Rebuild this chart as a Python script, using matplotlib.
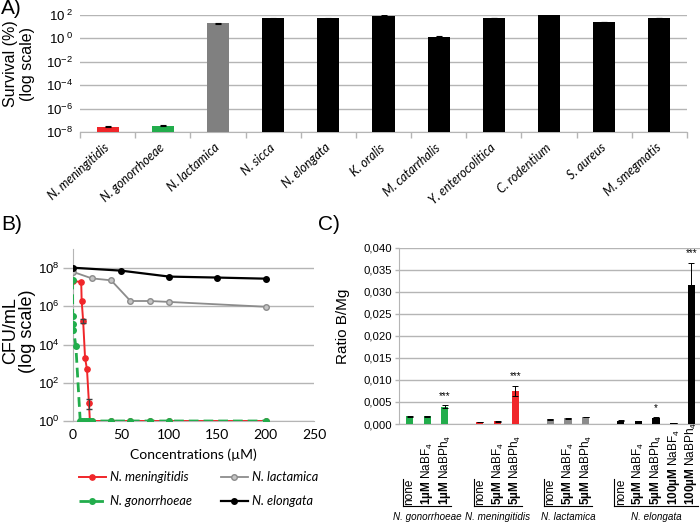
import matplotlib
matplotlib.use('Agg')
import matplotlib.pyplot as plt
from matplotlib.transforms import blended_transform_factory
from matplotlib.lines import Line2D
from matplotlib.ticker import FixedLocator, FuncFormatter, NullLocator

plt.rcParams['font.family'] = 'Liberation Sans'
plt.rcParams['mathtext.fontset'] = 'custom'
plt.rcParams['mathtext.rm'] = 'Liberation Sans'
plt.rcParams['mathtext.it'] = 'Liberation Sans:italic'
plt.rcParams['mathtext.bf'] = 'Liberation Sans:bold'

RED = '#f0262a'
GREEN = '#22ad4c'
GRAY = '#808080'
LGRAY = '#8c8c8c'
BLACK = '#000000'
GRID = '#b5b5b5'

# ---------------- Panel A data ----------------
a_species = ['N. meningitidis', 'N. gonorrhoeae', 'N. lactamica', 'N. sicca', 'N. elongata',
             'K. oralis', 'M. catarrhalis', 'Y. enterocolitica', 'C. rodentium', 'S. aureus',
             'M. smegmatis']
a_survival = [2.9e-8, 3.5e-8, 19, 54, 54, 87, 1.45, 54, 100, 25, 54]
a_rel_err = [0.12, 0.10, 0.10, 0.08, 0.08, 0.05, 0.08, 0.06, 0.0, 0.06, 0.05]
a_colors = [RED, GREEN, GRAY] + [BLACK] * 8
a_yticks = [1e-8, 1e-6, 1e-4, 1e-2, 1e0, 1e2]
a_ytick_labels = ['$10^{-8}$', '$10^{-6}$', '$10^{-4}$', '$10^{-2}$', '$10^{\\ 0}$', '$10^{\\ 2}$']

# ---------------- Panel B data ----------------
b_conc_men = [0, 9, 9.5, 11, 13, 15, 17, 18, 20, 40, 60, 80, 100, 200]
b_cfu_men = [2.1e7, 1.9e7, 1.9e6, 1.8e5, 2.0e3, 5.0e2, 9, 1, 1, 1, 1, 1, 1, 1]
b_conc_gon = [0, 0.25, 0.6, 1, 3.5, 8, 10, 12, 14, 16, 18, 20, 40, 60, 80, 100, 200]
b_cfu_gon = [2.5e7, 3.0e5, 1.2e5, 6.0e4, 8.0e3, 1, 1, 1, 1, 1, 1, 1, 1, 1, 1, 1, 1]
b_conc_lac = [0, 20, 40, 60, 80, 100, 200]
b_cfu_lac = [6.5e7, 2.9e7, 2.3e7, 1.9e6, 1.9e6, 1.7e6, 9.5e5]
b_conc_elo = [0, 50, 100, 150, 200]
b_cfu_elo = [1.05e8, 7.4e7, 3.6e7, 3.2e7, 2.8e7]
b_yticks = [1e0, 1e2, 1e4, 1e6, 1e8]
b_ytick_labels = ['$10^{0}$', '$10^{2}$', '$10^{4}$', '$10^{6}$', '$10^{8}$']
b_xticks = [0, 50, 100, 150, 200, 250]

# ---------------- Panel C data ----------------
c_groups = ['N. gonorrhoeae', 'N. meningitidis', 'N. lactamica', 'N. elongata']
c_group_colors = [GREEN, RED, LGRAY, BLACK]
c_doses = [['', '1µM', '1µM'],
           ['', '5µM', '5µM'],
           ['', '5µM', '5µM'],
           ['', '5µM', '5µM', '100µM', '100µM']]
c_compounds = [['none', 'NaBF', 'NaBPh'],
               ['none', 'NaBF', 'NaBPh'],
               ['none', 'NaBF', 'NaBPh'],
               ['none', 'NaBF', 'NaBPh', 'NaBF', 'NaBPh']]
c_values = [[0.0018, 0.0018, 0.0039],
            [0.00045, 0.0006, 0.0075],
            [0.0011, 0.0013, 0.0016],
            [0.00075, 0.0006, 0.0013, 0.0002, 0.0315]]
c_errors = [[0.0001, 0.0001, 0.0003],
            [0.0001, 0.0001, 0.0011],
            [0.0001, 0.0001, 0.0001],
            [0.0001, 0.0001, 0.0002, 0.00005, 0.0050]]
c_signif = [['', '', '***'], ['', '', '***'], ['', '', ''], ['', '', '*', '', '***']]
c_yticks = [0.0, 0.005, 0.010, 0.015, 0.020, 0.025, 0.030, 0.035, 0.040]

W, H = 700, 524
fig = plt.figure(figsize=(W / 100, H / 100), dpi=100)


def fx(px):
    return px / W


def fy(py):
    return 1 - py / H


# ================= Panel A =================
axA = fig.add_axes([fx(80), fy(132), 607 / W, 117 / H])
xa = list(range(len(a_species)))
bottom = 1e-8
axA.bar(xa, [v - bottom for v in a_survival], bottom=bottom, width=0.4,
        color=a_colors, zorder=3)
axA.errorbar(xa, a_survival, yerr=[[v * e for v, e in zip(a_survival, a_rel_err)],
                                   [v * e for v, e in zip(a_survival, a_rel_err)]],
             fmt='none', ecolor='black', elinewidth=0.8, capsize=2.2, capthick=0.8, zorder=4)
axA.set_yscale('log')
axA.set_ylim(1e-8, 1e2)
axA.set_xlim(-0.5, len(a_species) - 0.5)
axA.yaxis.set_major_locator(FixedLocator(a_yticks))
axA.yaxis.set_minor_locator(NullLocator())
axA.set_yticklabels(a_ytick_labels, fontsize=9.5)
axA.tick_params(axis='y', length=0, pad=5)
axA.grid(axis='y', color=GRID, lw=1, zorder=0)
for s in ['left', 'right', 'top']:
    axA.spines[s].set_visible(False)
axA.spines['bottom'].set_color(GRID)
axA.set_xticks(xa)
axA.set_xticklabels(a_species, rotation=42, ha='right', va='center', rotation_mode='anchor',
                    fontsize=9, family='Lato', style='italic')
axA.tick_params(axis='x', which='major', length=0, pad=10)
axA.set_xticks([i - 0.5 for i in range(len(a_species) + 1)], minor=True)
axA.tick_params(axis='x', which='minor', length=4, color=GRID, width=1)
fig.text(fx(19), fy(64), 'Survival (%)\n(log scale)', rotation=90, ha='center', va='center',
         fontsize=11.5, multialignment='center', linespacing=1.15)
fig.text(fx(1), fy(9), 'A)', fontsize=15, ha='left', va='center')

# ================= Panel B =================
axB = fig.add_axes([fx(72.5), fy(421), 241.5 / W, 172 / H])
axB.set_yscale('log')
axB.plot(b_conc_men, b_cfu_men, color=RED, lw=1.4, marker='o', ms=3.8, zorder=4)
axB.errorbar([b_conc_men[3], b_conc_men[6]], [b_cfu_men[3], b_cfu_men[6]],
             yerr=[[0.4e5, 5], [0.5e5, 5]], fmt='none', ecolor='#404040',
             elinewidth=0.8, capsize=2, zorder=5)
axB.plot(b_conc_lac, b_cfu_lac, color=LGRAY, lw=1.3, marker='o', ms=4,
         mfc='#c4c4c4', mec=LGRAY, zorder=3)
axB.plot(b_conc_gon, b_cfu_gon, color=GREEN, lw=2.0, ls=(0, (3.5, 1.8)), marker='o', ms=4,
         zorder=6)
axB.plot(b_conc_elo, b_cfu_elo, color=BLACK, lw=1.6, marker='o', ms=4, zorder=7)
axB.set_ylim(1e0, 1e9)
axB.set_xlim(0, 250)
axB.yaxis.set_major_locator(FixedLocator(b_yticks))
axB.yaxis.set_minor_locator(NullLocator())
axB.set_yticklabels(b_ytick_labels, fontsize=9.5)
axB.tick_params(axis='y', length=7, color=GRID, width=1, pad=2)
axB.set_xticks(b_xticks)
axB.set_xticklabels([str(t) for t in b_xticks], fontsize=10, family='Lato')
axB.tick_params(axis='x', length=0, pad=6)
axB.grid(axis='y', color=GRID, lw=1, zorder=0)
for s in ['right', 'top']:
    axB.spines[s].set_visible(False)
axB.spines['left'].set_color(GRID)
axB.spines['bottom'].set_color(GRID)
axB.set_xlabel('Concentrations (µM)', fontsize=10, family='Lato', labelpad=5)
fig.text(fx(19), fy(331), 'CFU/mL\n(log scale)', rotation=90, ha='center', va='center',
         fontsize=13, multialignment='center', linespacing=1.05)
fig.text(fx(1), fy(225), 'B)', fontsize=15, ha='left', va='center')

handles = [
    Line2D([], [], color=RED, lw=1.4, marker='o', ms=3.8),
    Line2D([], [], color=GREEN, lw=2.0, ls=(0, (3.5, 1.8)), marker='o', ms=4),
    Line2D([], [], color=LGRAY, lw=1.3, marker='o', ms=4, mfc='#c4c4c4', mec=LGRAY),
    Line2D([], [], color=BLACK, lw=1.6, marker='o', ms=4),
]
labels = ['N. meningitidis', 'N. gonorrhoeae', 'N. lactamica', 'N. elongata']
fig.legend(handles, labels, ncol=2, loc='upper left', bbox_to_anchor=(fx(79), fy(471)),
           frameon=False, prop={'family': 'Lato', 'style': 'italic', 'size': 9.2},
           handlelength=2.1, handletextpad=0.3, columnspacing=2.3, labelspacing=0.95,
           borderpad=0, borderaxespad=0)

# ================= Panel C =================
axC = fig.add_axes([fx(399), fy(424), 301 / W, 176.3 / H])
slot = 0
positions = []
for gi, vals in enumerate(c_values):
    pos = [slot + i for i in range(len(vals))]
    positions.append(pos)
    axC.bar(pos, vals, width=0.4, color=c_group_colors[gi], zorder=3)
    axC.errorbar(pos, vals, yerr=c_errors[gi], fmt='none', ecolor='black', elinewidth=0.7,
                 capsize=2, capthick=0.7, zorder=4)
    for p, v, e, s in zip(pos, vals, c_errors[gi], c_signif[gi]):
        if s:
            axC.text(p, v + e + 0.0022, s, ha='center', va='center', fontsize=7)
    slot += len(vals) + 1
axC.set_xlim(-0.6, 16.5)
axC.set_ylim(0, 0.040)
axC.set_yticks(c_yticks)
axC.yaxis.set_major_formatter(FuncFormatter(lambda v, p: f'{v:.3f}'.replace('.', ',')))
axC.tick_params(axis='y', labelsize=8.2, length=3, color=GRID, width=1, pad=2)
axC.set_xticks([])
axC.grid(axis='y', color=GRID, lw=1, zorder=0)
for s in ['right', 'top']:
    axC.spines[s].set_visible(False)
axC.spines['left'].set_color(GRID)
axC.spines['bottom'].set_color(GRID)
axC.set_ylabel('Ratio B/Mg', fontsize=11)
axC.yaxis.set_label_coords(fx(350) / (301 / W) - fx(399) / (301 / W), (fy(326) - fy(424)) / (176.3 / H))

tr = blended_transform_factory(axC.transData, fig.transFigure)
label_bottom = fy(506)
for gi, pos in enumerate(positions):
    for p, d, c in zip(pos, c_doses[gi], c_compounds[gi]):
        if d:
            txt = '$\\mathbf{' + d + '}$ ' + c + '$_4$'
        else:
            txt = c
        fig.text(p, label_bottom + 0.002, txt, transform=tr, rotation=90, ha='center',
                 va='bottom', fontsize=8.5)
    x0 = pos[0] - 0.36
    x1 = pos[-1] + 0.38
    fig.add_artist(Line2D([x0, x0], [fy(479), label_bottom], transform=tr, color='black', lw=0.8))
    fig.add_artist(Line2D([x0, x1], [label_bottom, label_bottom], transform=tr, color='black', lw=0.8))
    fig.text((pos[0] + pos[-1]) / 2, fy(517), c_groups[gi], transform=tr, ha='center',
             va='center', fontsize=7.1, style='italic')
fig.text(fx(318), fy(225), 'C)', fontsize=15, ha='left', va='center')

fig.savefig('out.png', dpi=100)
